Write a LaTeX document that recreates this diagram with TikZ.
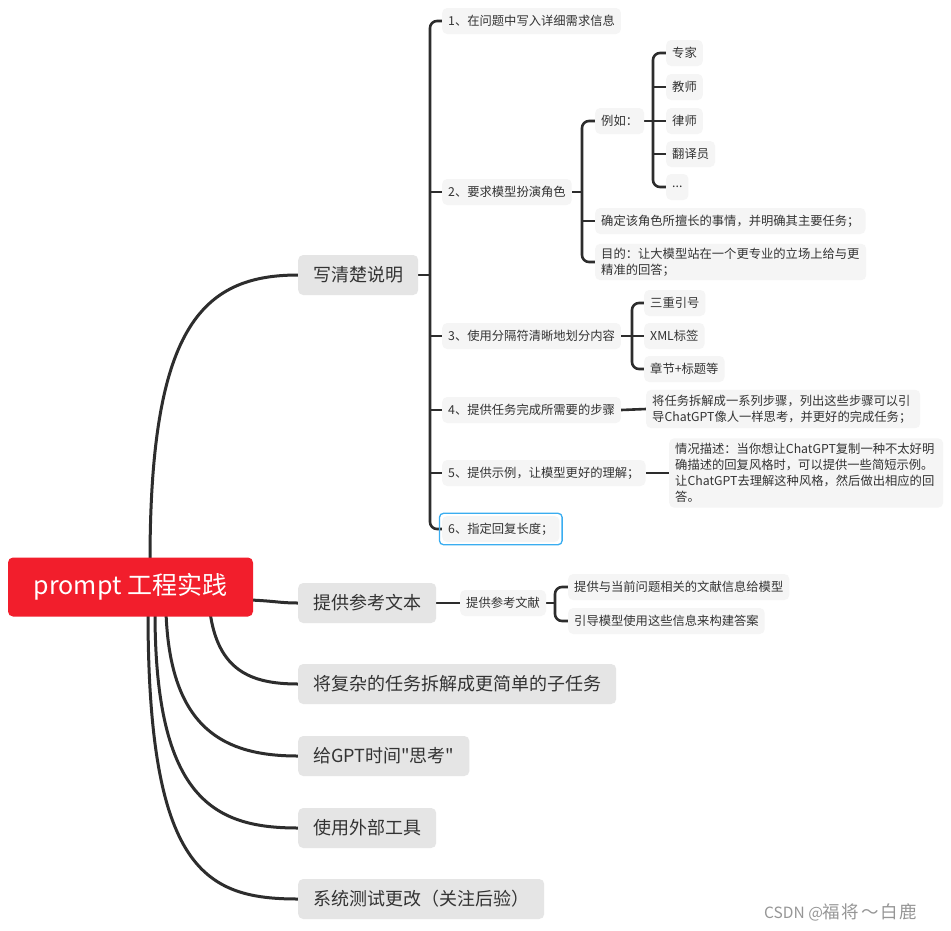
\documentclass[tikz,border=0pt]{standalone}
\usepackage{fontspec}
\setmainfont{Noto Sans CJK SC}
\newfontfamily\qfont{Noto Sans CJK SC}
\newfontfamily\wmfont{Noto Sans CJK SC}[LetterSpace=9]
\usetikzlibrary{backgrounds,fit}
\definecolor{rootred}{RGB}{242,30,44}
\definecolor{lonefill}{RGB}{229,229,229}
\definecolor{ltwofill}{RGB}{245,245,245}
\definecolor{txt}{RGB}{51,51,51}
\definecolor{linec}{RGB}{45,45,45}
\definecolor{selblue}{RGB}{58,173,240}
\definecolor{wmark}{RGB}{150,150,150}
\begin{document}
\begin{tikzpicture}[x=1pt,y=-1pt,
 rootbox/.style={fill=rootred, text=white, rounded corners=5pt, minimum width=245pt, minimum height=59pt, font=\fontsize{25}{29}\selectfont, inner sep=0pt},
 lone/.style={fill=lonefill, text=txt, rounded corners=5pt, minimum height=40pt, inner xsep=15pt, inner ysep=0pt, font=\fontsize{18}{22}\selectfont, anchor=west},
 ltwo/.style={fill=ltwofill, text=txt, rounded corners=5pt, minimum height=26pt, inner xsep=6pt, inner ysep=0pt, font=\fontsize{12.3}{16}\selectfont, anchor=west},
 wide/.style={ltwo, text width=262pt, align=left, inner ysep=5pt},
 curve/.style={draw=linec, line width=3pt},
 brk/.style={draw=linec, line width=2.6pt, rounded corners=7pt},
]
\useasboundingbox (0,0) rectangle (951,930);

% root and first level
\node[rootbox] (root) at (130.5,587) {prompt 工程实践};
\node[lone] (a1) at (298,275) {写清楚说明};
\node[lone] (a2) at (298,603) {提供参考文本};
\node[lone] (a3) at (298,684) {将复杂的任务拆解成更简单的子任务};
\node[lone] (a4) at (298,756) {给GPT时间{\qfont"}思考{\qfont"}};
\node[lone] (a5) at (298,828) {使用外部工具};
\node[lone] (a6) at (298,899) {系统测试更改（关注后验）};

% second level under 写清楚说明
\node[ltwo] (b1) at (442,21) {1、在问题中写入详细需求信息};
\node[ltwo] (b2) at (442,192) {2、要求模型扮演角色};
\node[ltwo] (b3) at (442,336) {3、使用分隔符清晰地划分内容};
\node[ltwo] (b4) at (442,410) {4、提供任务完成所需要的步骤};
\node[ltwo] (b5) at (442,473) {5、提供示例，让模型更好的理解；};
\node[ltwo] (b6) at (442,529) {6、指定回复长度；};
\node[fit=(b6), draw=selblue, line width=1.3pt, rounded corners=4pt, inner sep=2.5pt] (sel) {};

% under 2
\node[ltwo] (e0) at (595,121) {例如：};
\node[ltwo] (d2) at (595,221) {确定该角色所擅长的事情，并明确其主要任务；};
\node[ltwo, text width=259pt, align=left, inner ysep=4pt] (d3) at (595,262) {目的：让大模型站在一个更专业的立场上给与更\\精准的回答；};
\node[ltwo] (f1) at (666,53) {专家};
\node[ltwo] (f2) at (666,87) {教师};
\node[ltwo] (f3) at (666,121) {律师};
\node[ltwo] (f4) at (666,154) {翻译员};
\node[ltwo] (f5) at (666,187) {...};

% under 3
\node[ltwo] (g1) at (644,303) {三重引号};
\node[ltwo] (g2) at (644,336) {XML标签};
\node[ltwo] (g3) at (644,369) {章节+标题等};

% under 4 and 5
\node[wide] (h1) at (646,409) {将任务拆解成一系列步骤，列出这些步骤可以引\\导ChatGPT像人一样思考，并更好的完成任务；};
\node[wide] (k1) at (669,473) {情况描述：当你想让ChatGPT复制一种不太好明\\确描述的回复风格时，可以提供一些简短示例。\\让ChatGPT去理解这种风格，然后做出相应的回\\答。};

% under 提供参考文本
\node[ltwo] (r0) at (460,603) {提供参考文献};
\node[ltwo] (r1) at (568,587) {提供与当前问题相关的文献信息给模型};
\node[ltwo] (r2) at (568,621) {引导模型使用这些信息来构建答案};

% watermark
\node[anchor=west, text=wmark, inner sep=0pt] (wm) at (764,912) {{\fontsize{15.5}{18}\selectfont CSDN @}{\wmfont\fontsize{17.5}{20}\selectfont 福将～白鹿}};

\begin{scope}[on background layer]
\fill[white] (0,0) rectangle (951,930);
% root curves
\coordinate (s1) at (150,562);
\coordinate (s2) at (250,600);
\coordinate (s3) at (210,612);
\coordinate (s4) at (166,612);
\coordinate (s5) at (155,612);
\coordinate (s6) at (148,612);
\draw[curve] (s1) .. controls (150,330) and (200,275) .. (a1.west);
\draw[curve] (s2) .. controls (275,601) and (280,603) .. (a2.west);
\draw[curve] (s3) .. controls (218,670) and (250,684) .. (a3.west);
\draw[curve] (s4) .. controls (170,730) and (225,756) .. (a4.west);
\draw[curve] (s5) .. controls (155,800) and (215,828) .. (a5.west);
\draw[curve] (s6) .. controls (148,870) and (205,899) .. (a6.west);

% bracket of 写清楚说明
\coordinate (ja) at (430,275);
\draw[brk] (a1.east) -- (ja);
\draw[brk] (b1.west) -| (ja) |- (b6.west);
\draw[brk] (ja |- b2.west) -- (b2.west);
\draw[brk] (ja |- b3.west) -- (b3.west);
\draw[brk] (ja |- b4.west) -- (b4.west);
\draw[brk] (ja |- b5.west) -- (b5.west);

% bracket of 2
\coordinate (jb) at (582,192);
\draw[brk] (b2.east) -- (jb);
\draw[brk] (e0.west) -| (jb) |- (d3.west);
\draw[brk] (jb |- d2.west) -- (d2.west);

% bracket of 例如
\coordinate (jc) at (653,121);
\draw[brk] (e0.east) -- (jc);
\draw[brk] (f1.west) -| (jc) |- (f5.west);
\draw[brk] (jc |- f2.west) -- (f2.west);
\draw[brk] (jc) -- (f3.west);
\draw[brk] (jc |- f4.west) -- (f4.west);

% bracket of 3
\coordinate (jd) at (632,336);
\draw[brk] (b3.east) -- (jd);
\draw[brk] (g1.west) -| (jd) |- (g3.west);
\draw[brk] (jd) -- (g2.west);

% 4 and 5
\draw[brk] (b4.east) -- (h1.west);
\draw[brk] (b5.east) -- (k1.west);

% 提供参考文本
\coordinate (je) at (555,603);
\draw[brk] (a2.east) -- (r0.west);
\draw[brk] (r0.east) -- (je);
\draw[brk] (r1.west) -| (je) |- (r2.west);
\end{scope}
\end{tikzpicture}
\end{document}
